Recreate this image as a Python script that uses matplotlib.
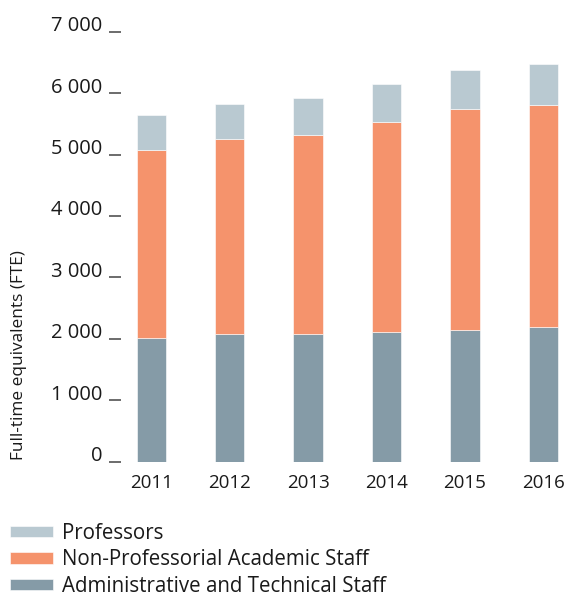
import matplotlib
matplotlib.use('Agg')
import matplotlib.pyplot as plt
import matplotlib.ticker as ticker
from matplotlib.transforms import ScaledTranslation
import numpy as np

years = ['2011', '2012', '2013', '2014', '2015', '2016']
admin = [2010, 2074, 2084, 2111, 2149, 2198]
non_prof = [3070, 3173, 3228, 3417, 3586, 3602]
professors = [569, 569, 607, 625, 645, 672]

c_prof = '#b9c9d1'
c_nonprof = '#f5936c'
c_admin = '#859ba7'
txt = '#1a1a1a'

plt.rcParams['font.family'] = ['Open Sans', 'DejaVu Sans']

fig = plt.figure(figsize=(5.7, 5.98), dpi=100)
ax = fig.add_axes([0.212, 0.228, 0.770, 0.719])

x = np.arange(len(years))
w = 0.374
b1 = ax.bar(x, admin, w, color=c_admin, edgecolor='white', linewidth=0.4)
b2 = ax.bar(x, non_prof, w, bottom=admin, color=c_nonprof, edgecolor='white', linewidth=0.4)
bottom2 = np.array(admin) + np.array(non_prof)
b3 = ax.bar(x, professors, w, bottom=bottom2, color=c_prof, edgecolor='white', linewidth=0.4)

ax.set_xlim(-0.387, 5.21)
ax.set_ylim(0, 7000)
ax.set_xticks(x)
ax.set_xticklabels(years)
ax.yaxis.set_major_locator(ticker.MultipleLocator(1000))
ax.yaxis.set_major_formatter(ticker.FuncFormatter(lambda v, p: f'{int(v):,}'.replace(',', ' ')))

for s in ax.spines.values():
    s.set_visible(False)

ax.tick_params(axis='x', length=0, pad=9, labelsize=13.5, colors=txt)
ax.tick_params(axis='y', length=9, width=1.1, pad=4.5, labelsize=14.5, color='#444444', labelcolor=txt)

# labels sit above the tick like "7 000 _"
offset = ScaledTranslation(0, 8 / 100, fig.dpi_scale_trans)
for lab in ax.get_yticklabels():
    lab.set_transform(lab.get_transform() + offset)

fig.text(19 / 570, 1 - 460 / 598, 'Full-time equivalents (FTE)', rotation=90,
         ha='center', va='bottom', fontsize=12.4, color=txt)

fig.legend([b3, b2, b1],
           ['Professors', 'Non-Professorial Academic Staff', 'Administrative and Technical Staff'],
           loc='upper left', bbox_to_anchor=(10 / 570, 1 - 523 / 598), frameon=False,
           fontsize=14.8, handlelength=2.1, handleheight=0.45, handletextpad=0.42,
           labelspacing=0.26, borderpad=0, borderaxespad=0, labelcolor=txt)

fig.savefig('out.png', dpi=100)
